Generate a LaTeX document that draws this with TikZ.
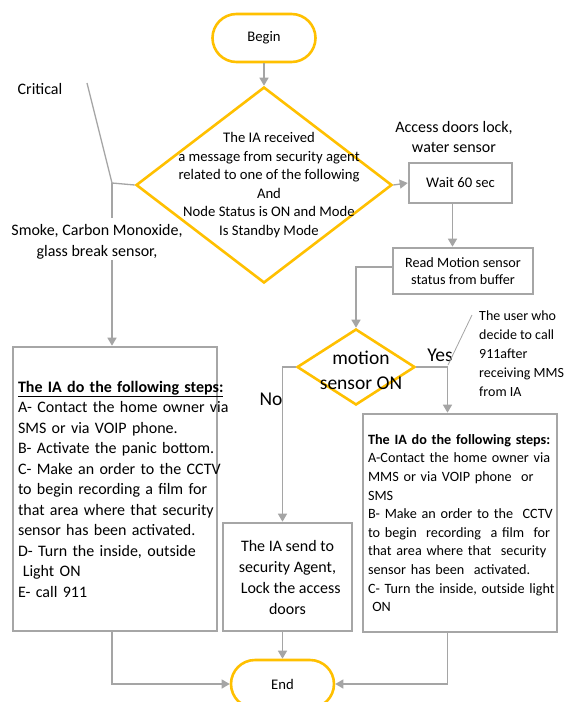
\documentclass[tikz,border=0pt]{standalone}
\usepackage{fontspec}
\setmainfont{Carlito}
\usetikzlibrary{shapes.geometric,arrows.meta}
\definecolor{yel}{HTML}{FFC000}
\definecolor{gry}{HTML}{A6A6A6}
\definecolor{lgry}{HTML}{A5A5A5}
\newcommand{\fsz}[2]{\fontsize{#1}{#2}\selectfont}
\begin{document}
\begin{tikzpicture}[x=1pt,y=-1pt,
 term/.style={draw=yel,line width=2.6pt,rectangle,rounded corners=24pt,minimum width=103pt,minimum height=48pt,inner sep=0pt,font=\fsz{14.67}{18}},
 decide/.style={draw=yel,line width=2.6pt,diamond,inner sep=0pt},
 procbox/.style={draw=gry,line width=2.6pt,rectangle,inner sep=0pt},
 conn/.style={draw=lgry,line width=1.3pt},
 arr/.style={conn,-{Triangle[width=9pt,length=8pt]}},
 lbl/.style={inner sep=0pt,align=center},
]
\fill[white] (0,0) rectangle (566,702);
\useasboundingbox (0,0) rectangle (566,702);

% terminals
\node[term] (begin) at (264,38) {Begin};
\node[term] (end) at (282.5,684) {End};

% first decision
\node[decide,minimum width=256pt,minimum height=196pt] (d1) at (264,185) {};
\node[lbl,font=\fsz{14.67}{18.6}] (d1t) at (269,185) {The IA received\\ a message from security\ agent\\related to one of the following\\And\\Node Status is ON and Mode\\ Is Standby Mode};

% right column
\node[procbox,minimum width=103pt,minimum height=40pt,font=\fsz{14.67}{18}] (wait) at (460.5,183) {Wait 60 sec};
\node[procbox,minimum width=140pt,minimum height=46pt,align=center,font=\fsz{14.2}{17}] (read) at (463,271) {Read Motion sensor\\status from buffer};

% second decision
\node[decide,minimum width=118pt,minimum height=76pt] (d2) at (356,367) {};
\node[lbl,font=\fsz{19.5}{25}] (d2t) at (361,370) {motion\\sensor ON};

% left box
\node[procbox,minimum width=204pt,minimum height=284pt,text width=194pt,align=left,font=\fsz{16}{20.5}] (lbox) at (115,489) {%
\underline{\textbf{The IA do the following steps:}}\\
\mbox{A- Contact the home owner via}\\
SMS or via VOIP phone.\\
\mbox{B- Activate the panic bottom.}\\
\mbox{C- Make an order to the CCTV}\\
to begin recording a film for\\
\mbox{that area where that security}\\
sensor has been activated.\\
D- Turn the inside, outside\\
\hspace*{0.3em}Light ON\\
E- call 911};

% centre box
\node[procbox,minimum width=129pt,minimum height=108pt,align=center,font=\fsz{16}{21}] (cbox) at (287.5,577) {The IA send to\\security Agent,\\\hspace*{0.4em}Lock the access\\doors};

% right box
\node[procbox,minimum width=194pt,minimum height=218pt,text width=184pt,align=left,font=\fsz{14.2}{18.6}] (rbox) at (460,523) {%
\makebox[182pt][s]{\textbf{The IA do the following steps:}}\\
\makebox[183pt][s]{A-Contact the home owner via}\\
\mbox{MMS or via VOIP phone\ \ or}\\
SMS\\
\mbox{B- Make an order to the\ \ CCTV}\\
\mbox{to begin\ \ recording\ \ a film\ \ for}\\
\mbox{that area where that\ \ security}\\
\mbox{sensor has been\ \ activated.}\\
\makebox[183pt][s]{C- Turn the inside, outside light}\\
\hspace*{0.3em}ON};

% labels
\node[lbl,font=\fsz{16}{20}] (crit) at (40,89) {Critical};
\node[lbl,font=\fsz{16}{21}] (smoke) at (97,242) {Smoke, Carbon Monoxide,\\glass break sensor,};
\node[lbl,font=\fsz{16}{20}] (acc) at (454,137) {Access doors lock,\\water sensor};
\node[lbl,font=\fsz{19.5}{24}] (yes) at (440,355) {Yes};
\node[lbl,font=\fsz{19.5}{24}] (no) at (271,399) {No};
\node[anchor=north west,inner sep=0pt,align=left,font=\fsz{14}{19}] (usr) at (479,311) {The user who\\decide to call\\911after\\receiving MMS\\from IA};

% helper coordinates
\coordinate (cr1) at (87,83);
\coordinate (cr2) at (112,183);
\coordinate (cr3) at (112,218);
\coordinate (cr4) at (112,260);
\coordinate (u1) at (472,315);
\coordinate (u2) at (448,365);

% connectors
\draw[arr] (begin.south) -- (d1.north);
\draw[conn] (cr1) -- (cr2) -- (d1.west);
\draw[conn] (cr2) -- (cr3);
\draw[arr] (cr4) -- (cr4 |- lbox.north);
\draw[arr] (d1.east) -- (wait.west);
\draw[arr] ([xshift=-8pt]wait.south) -- ([xshift=-8pt]wait.south |- read.north);
\draw[arr] ([yshift=4pt]read.west) -| (d2.north);
\draw[arr] (d2.west) -| ([xshift=-5pt]cbox.north);
\draw[arr] (d2.east) -| ([xshift=-12.5pt]rbox.north);
\draw[arr] ([xshift=-5pt]cbox.south) -- (end.north);
\draw[arr] (cr4 |- lbox.south) |- (end.west);
\draw[arr] ([xshift=-12.5pt]rbox.south) |- (end.east);
\draw[conn,line width=0.8pt] (u1) -- (u2);
\end{tikzpicture}
\end{document}
